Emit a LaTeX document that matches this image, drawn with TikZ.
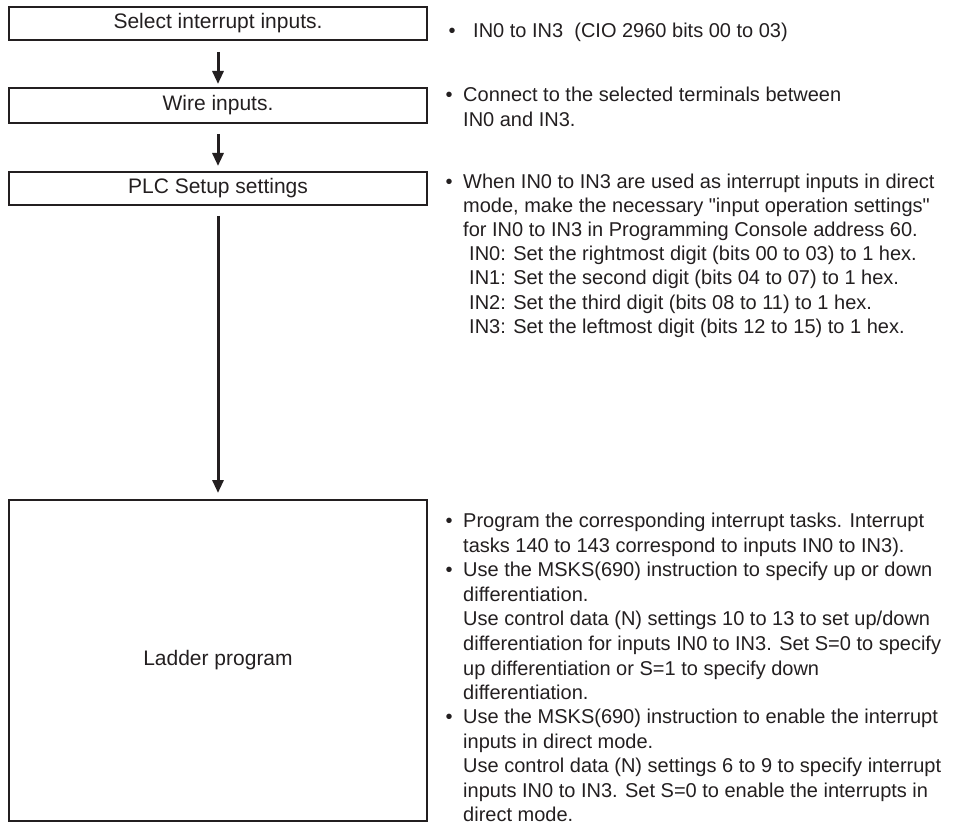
\documentclass[tikz,border=0pt]{standalone}
\usepackage{fontspec}
\setmainfont{Liberation Sans}
\newfontfamily\plainq{Liberation Sans}
\usetikzlibrary{arrows.meta}
\definecolor{ink}{RGB}{35,31,32}
\tikzset{
  stepbox/.style={draw=ink, line width=2pt, minimum width=418pt, inner sep=0pt, text=ink, font=\fontsize{21}{24}\selectfont},
  flow/.style={draw=ink, line width=3pt, -{Triangle[width=11pt,length=13pt]}},
  txt/.style={anchor=base west, inner sep=0pt, text=ink, font=\fontsize{20}{24}\selectfont},
  bul/.style={anchor=base, inner sep=0pt, text=ink, font=\fontsize{20}{24}\selectfont}
}
\newcommand{\sq}{{\plainq "}}
\begin{document}
\begin{tikzpicture}[x=1pt, y=-1pt]
\useasboundingbox (0,0) rectangle (980,834);
% boxes
\node[stepbox, minimum height=33pt] (b1) at (218,23.5) {Select interrupt inputs.};
\node[stepbox, minimum height=35pt] (b2) at (218,105.5) {Wire inputs.};
\node[stepbox, minimum height=33pt] (b3) at (218,188.5) {PLC Setup settings};
\node[stepbox, minimum height=321pt] (b4) at (218,660.5) {Ladder program};
% arrows
\draw[flow, shorten <=11pt, shorten >=3pt] (b1.south) -- (b2.north);
\draw[flow, shorten <=10pt, shorten >=5pt] (b2.south) -- (b3.north);
\draw[flow, shorten <=10pt, shorten >=6pt] (b3.south) -- (b4.north);
% paragraph 1
\node[bul] (p1b) at (452,38) {•};
\node[txt] (p1a) at (473,38) {IN0 to IN3\ \ (CIO 2960 bits 00 to 03)};
% paragraph 2
\node[bul] (p2b) at (449,102) {•};
\node[txt] (p2a) at (463,102) {Connect to the selected terminals between};
\node[txt] (p2c) at (463,127) {IN0 and IN3.};
% paragraph 3
\node[bul] (p3b) at (449,189) {•};
\node[txt] (p3a) at (463,189) {When IN0 to IN3 are used as interrupt inputs in direct};
\node[txt] (p3c) at (463,213) {mode, make the necessary \sq input operation settings\sq};
\node[txt] (p3d) at (463,237) {for IN0 to IN3 in Programming Console address 60.};
\node[txt] (p3e) at (469,261) {IN0: Set the rightmost digit (bits 00 to 03) to 1 hex.};
\node[txt] (p3f) at (469,285) {IN1: Set the second digit (bits 04 to 07) to 1 hex.};
\node[txt] (p3g) at (469,310) {IN2: Set the third digit (bits 08 to 11) to 1 hex.};
\node[txt] (p3h) at (469,334) {IN3: Set the leftmost digit (bits 12 to 15) to 1 hex.};
% paragraph 4
\node[bul] (p4b1) at (449,527) {•};
\node[txt] (l1) at (463,527) {Program the corresponding interrupt tasks. Interrupt};
\node[txt] (l2) at (463,552) {tasks 140 to 143 correspond to inputs IN0 to IN3).};
\node[bul] (p4b2) at (449,576) {•};
\node[txt] (l3) at (463,576) {Use the MSKS(690) instruction to specify up or down};
\node[txt] (l4) at (463,601) {differentiation.};
\node[txt] (l5) at (463,625) {Use control data (N) settings 10 to 13 to set up/down};
\node[txt] (l6) at (463,650) {differentiation for inputs IN0 to IN3. Set S=0 to specify};
\node[txt] (l7) at (463,675) {up differentiation or S=1 to specify down};
\node[txt] (l8) at (463,699) {differentiation.};
\node[bul] (p4b3) at (449,723) {•};
\node[txt] (l9) at (463,723) {Use the MSKS(690) instruction to enable the interrupt};
\node[txt] (l10) at (463,748) {inputs in direct mode.};
\node[txt] (l11) at (463,772) {Use control data (N) settings 6 to 9 to specify interrupt};
\node[txt] (l12) at (463,797) {inputs IN0 to IN3. Set S=0 to enable the interrupts in};
\node[txt] (l13) at (463,821) {direct mode.};
\end{tikzpicture}
\end{document}
